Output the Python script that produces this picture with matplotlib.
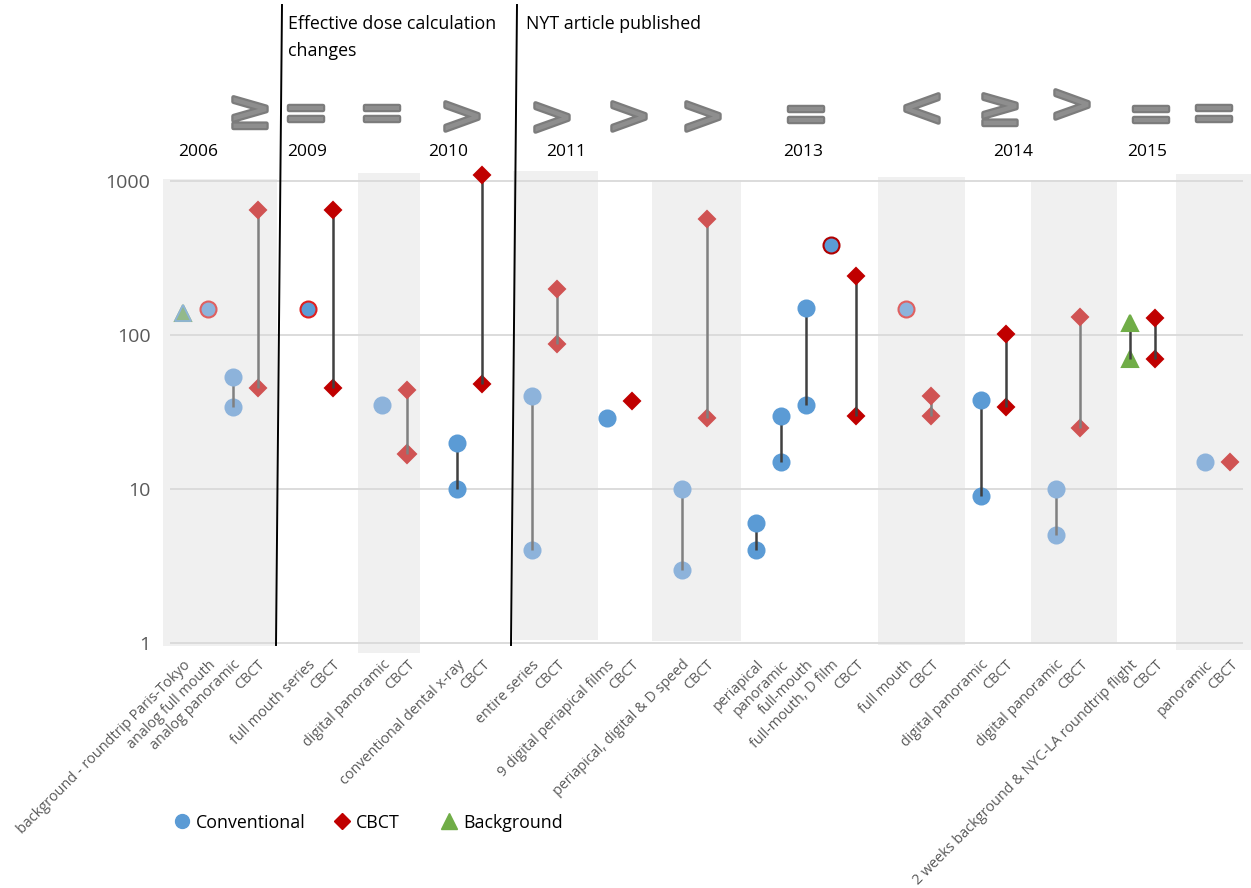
import numpy as np
import matplotlib.pyplot as plt
import matplotlib.patheffects as pe
from matplotlib import transforms
from matplotlib.lines import Line2D
from matplotlib.ticker import NullLocator

plt.rcParams['font.family'] = ['Open Sans', 'DejaVu Sans']

# x categories (blank entries leave a gap between studies)
categories = [
    'background - roundtrip Paris-Tokyo', 'analog full mouth', 'analog panoramic', 'CBCT', '',
    'full mouth series', 'CBCT', '',
    'digital panoramic', 'CBCT', '',
    'conventional dental x-ray', 'CBCT', '',
    'entire series', 'CBCT', '',
    '9 digital periapical films', 'CBCT', '',
    'periapical, digital & D speed', 'CBCT', '',
    'periapical', 'panoramic', 'full-mouth', 'full-mouth, D film', 'CBCT', '',
    'full mouth', 'CBCT', '',
    'digital panoramic', 'CBCT', '',
    'digital panoramic', 'CBCT', '',
    '2 weeks background & NYC-LA roundtrip flight', 'CBCT', '',
    'panoramic', 'CBCT',
]

# effective dose (microSv): low / high of the reported range
conv_pos = [1, 2, 5, 8, 11, 14, 17, 20, 23, 24, 25, 26, 29, 32, 35, 41]
conv_low = [148, 34, 148, 35, 10, 4, 29, 3, 4, 15, 35, 386, 148, 9, 5, 15]
conv_high = [None, 53, None, None, 20, 40, None, 10, 6, 30, 150, None, None, 38, 10, None]

cbct_pos = [3, 6, 9, 12, 15, 18, 21, 27, 30, 33, 36, 39, 42]
cbct_low = [45, 45, 17, 48, 87, 37, 29, 30, 30, 34, 25, 70, 15]
cbct_high = [650, 650, 44, 1100, 200, None, 570, 240, 40, 102, 131, 128, None]

bg_pos = [0, 38]
bg_low = [139, 70]
bg_high = [None, 119]

# circles outlined in red
flagged = [1, 5, 26, 29]

years = ['2006', '2009', '2010', '2011', '2013', '2014', '2015']
comparisons = ['≥', '=', '=', '>', '>', '>', '>', '=', '<', '≥', '>', '=', '=']
legend_labels = ['Conventional', 'CBCT', 'Background']

# ---- layout ----
W, H = 1251, 888
x0_px, step_px = 183, 24.93
px = lambda x: (x - x0_px) / step_px          # pixel column -> category coordinate
fy = lambda y: 1 - y / H                       # pixel row -> figure fraction

year_x = [198, 307, 448, 566, 803, 1013, 1147]
comp_x = [250, 306, 382, 462, 552, 629, 703, 806, 922, 1000, 1072, 1151, 1214]
comp_y = [113, 115, 115, 118, 119, 118, 118, 116, 110, 110, 106, 116, 115]

# shaded study blocks: (left px, right px, top px, bottom px)
bands = [(163, 277, 179, 646), (358, 420, 173, 653), (513, 598, 171, 640),
         (652, 741, 180, 641), (878, 965, 177, 645), (1031, 1117, 180, 643),
         (1176, 1251, 174, 650)]

blue, blue_l = '#5B9BD5', '#8DB3DB'
red, red_l = '#C00000', '#D05353'
green, green_l = '#70AD47', '#93B98A'

fig = plt.figure(figsize=(W / 100, H / 100), dpi=100)
ax_top, ax_bot = 165, 656
ax = fig.add_axes([163 / W, fy(ax_bot), (W - 163) / W, (ax_bot - ax_top) / H])
ax.set_yscale('log')
ax.set_ylim(10 ** ((643 - ax_bot) / 154), 10 ** ((643 - ax_top) / 154))
ax.set_xlim(px(163), px(W))
for s in ax.spines.values():
    s.set_visible(False)

for l, r, t, b in bands:
    ax.axvspan(px(l), px(r), ymin=(ax_bot - b) / (ax_bot - ax_top),
               ymax=(ax_bot - t) / (ax_bot - ax_top), color='#F0F0F0', lw=0, zorder=0)

ax.hlines([1, 10, 100, 1000], px(170), px(1243), color='#D9D9D9', lw=1.3, zorder=1)


def shaded(p):
    xp = x0_px + step_px * p
    return any(l <= xp <= r for l, r, _, _ in bands)


def draw(pos, low, high, marker, dark, light, ms):
    for p, lo, hi in zip(pos, low, high):
        faded = shaded(p)
        col = light if faded else dark
        edge = col
        if marker == 'o' and p in flagged:
            edge = '#E06060' if faded else ('#B00000' if p == 26 else '#E02020')
        if hi is not None:
            ax.plot([p, p], [lo, hi], color='#808080' if faded else '#404040',
                    lw=1.8, zorder=3, solid_capstyle='butt')
            ax.plot([p], [hi], marker, color=col, mec=edge, mew=1.5, ms=ms, zorder=4)
        big = ms * 1.15 if (marker == 'D' and lo == 17) else ms
        ax.plot([p], [lo], marker, color=col, mec=edge, mew=1.5, ms=big, zorder=2)


draw(conv_pos, conv_low, conv_high, 'o', blue, blue_l, 11.5)
draw(cbct_pos, cbct_low, cbct_high, 'D', red, red_l, 7.8)
draw(bg_pos, bg_low, bg_high, '^', green, green_l, 11.5)
# first background marker keeps its bluish outline
ax.plot([bg_pos[0]], [bg_low[0]], '^', color=green_l, mec=blue_l, mew=1.2, ms=11.5, zorder=4)

ax.set_yticks([1, 10, 100, 1000])
ax.set_yticklabels(['1', '10', '100', '1000'])
ax.yaxis.set_minor_locator(NullLocator())
ax.tick_params(axis='y', length=0, pad=9, labelsize=14, labelcolor='#595959')

ax.set_xticks(range(len(categories)))
ax.set_xticklabels(categories, rotation=45, ha='right', rotation_mode='anchor')
ax.tick_params(axis='x', length=0, pad=1, labelsize=10.4, labelcolor='#595959')

# year headers and the comparison signs above each study
bt = transforms.blended_transform_factory(ax.transData, fig.transFigure)
for y, x in zip(years, year_x):
    ax.text(px(x), fy(152), y, transform=bt, ha='center', va='center',
            fontsize=12.5, color='black')
for c, x, y in zip(comparisons, comp_x, comp_y):
    ax.text(px(x), fy(y), c, transform=bt, ha='center', va='center',
            fontsize=38, family='DejaVu Sans', color='#8E8E8E',
            path_effects=[pe.Stroke(linewidth=3.2, foreground='#7C7C7C'),
                          pe.Normal()])

# event separators
for (xa, ya), (xb, yb) in [((282, 5), (276, 645)), ((517, 5), (511, 645))]:
    fig.add_artist(Line2D([xa / W, xb / W], [fy(ya), fy(yb)], color='black', lw=1.4))

fig.text(288 / W, fy(15), 'Effective dose calculation\nchanges', ha='left', va='top',
         fontsize=12.8, linespacing=1.65)
fig.text(526 / W, fy(15), 'NYT article published', ha='left', va='top', fontsize=12.8)

# legend row along the bottom
leg_marks = [('o', blue, 10), ('D', red, 8.5), ('^', green, 11)]
leg_x = [182, 342, 449]
for (m, c, ms), x, lab in zip(leg_marks, leg_x, legend_labels):
    fig.add_artist(Line2D([x / W], [fy(821)], ls='none', marker=m, color=c, ms=ms))
    fig.text((x + 14) / W, fy(821), lab, ha='left', va='center_baseline',
             fontsize=12.8, color='black')

fig.savefig('out.png', dpi=100)
